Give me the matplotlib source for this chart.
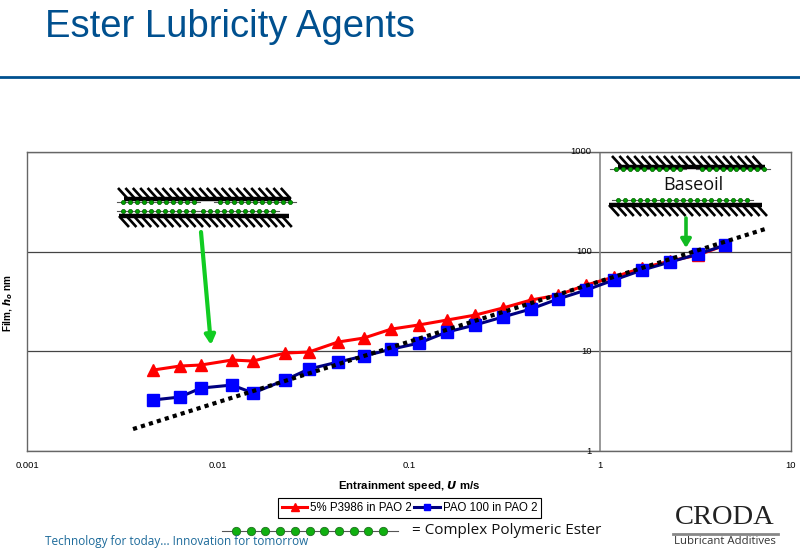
#!/usr/bin/env python3
"""Ester lubricity chart: film thickness vs entrainment speed"""
import matplotlib
matplotlib.use("Agg")
import matplotlib.pyplot as plt

plt.rcParams["font.family"] = ["Liberation Sans", "DejaVu Sans"]

speed = [0.00457, 0.00632, 0.00815, 0.01184, 0.01525, 0.02244, 0.0299, 0.0425,
         0.0581, 0.0806, 0.1128, 0.158, 0.222, 0.310, 0.435, 0.603, 0.845,
         1.18, 1.66, 2.32, 3.26, 4.51]
film_p3986 = [6.49, 7.12, 7.29, 8.18, 7.99, 9.61, 9.84, 12.4, 13.6, 16.7, 18.4,
              20.6, 23.1, 27.2, 32.7, 36.7, 46.2, 55.6, 68.5, 80.5, 92.5, 116]
film_pao100 = [3.25, 3.48, 4.28, 4.59, 3.82, 5.15, 6.64, 7.81, 8.97, 10.5, 12.1,
               15.6, 18.4, 22.1, 26.6, 33.5, 41.2, 51.9, 65.3, 78.6, 94.6, 116]
trend_x = [0.00359, 7.31]
trend_y = [1.66, 168.6]
x_ticks = [0.001, 0.01, 0.1, 1, 10]
x_labels = ["0.001", "0.01", "0.1", "1", "10"]
y_ticks = [1, 10, 100, 1000]
y_labels = ["1", "10", "100", "1000"]

W, H = 800, 556
fig = plt.figure(figsize=(W / 100, H / 100), dpi=100)

# chart area, y axis crosses at x = 1
ax = fig.add_axes([27 / W, 1 - 451 / H, (791 - 27) / W, (451 - 152) / H])
ax.set_xscale("log")
ax.set_yscale("log")
ax.set_xlim(0.001, 10)
ax.set_ylim(1, 1000)
ax.minorticks_off()
for s in ax.spines.values():
    s.set_color("#666666")
    s.set_linewidth(1)
ax.grid(True, axis="y", color="#444444", lw=0.9)
ax.set_axisbelow(True)
ax.axvline(1, color="#888888", lw=1.2)
ax.set_xticks(x_ticks)
ax.set_xticklabels(x_labels, fontsize=6.8)
ax.tick_params(axis="x", length=0, pad=7.5)
ax.set_yticks(y_ticks)
ax.set_yticklabels([])
ax.tick_params(axis="y", length=0)
for v, lab in zip(y_ticks, y_labels):
    ax.annotate(lab, (1, v), xytext=(-6, 0), textcoords="offset points",
                ha="right", va="center", fontsize=6.8)

l1, = ax.plot(speed, film_p3986, color="#ff0000", lw=2.2, marker="^", ms=9,
              label="5% P3986 in PAO 2")
l2, = ax.plot(speed, film_pao100, color="#000080", lw=2.2, marker="s", ms=8,
              mfc="#0000ff", mec="#0000ff", label="PAO 100 in PAO 2")
ax.plot(trend_x, trend_y, color="black", lw=3, ls=(0, (1, 1)))

ax.set_xlabel("Entrainment speed, $\\bfit{U}$ m/s", fontsize=8.2, fontweight="bold", labelpad=6)
fig.text(8 / W, 1 - 303 / H, "Film, $\\bfit{h_o}$ nm", rotation=90, fontsize=7.2,
         fontweight="bold", ha="center", va="center")

leg = fig.legend(handles=[l1, l2], loc="center", bbox_to_anchor=(409.5 / W, 1 - 508 / H),
                 ncol=2, fontsize=8.3, frameon=True, fancybox=False, edgecolor="black",
                 framealpha=1, columnspacing=0.2, handlelength=2.2, handletextpad=0.25,
                 borderpad=0.35, borderaxespad=0, markerscale=0.6)
leg.get_frame().set_linewidth(0.8)

# overlay in pixel coordinates for the slide furniture
ov = fig.add_axes([0, 0, 1, 1], facecolor="none")
ov.set_xlim(0, W)
ov.set_ylim(H, 0)
ov.axis("off")

ov.text(45, 27, "Ester Lubricity Agents", fontsize=27.5, color="#00508f", va="center", ha="left")
ov.plot([0, 800], [77, 77], color="#00508f", lw=2)


def wall(x0, x1, y, up):
    # black bar with diagonal hatch strokes
    ov.plot([x0, x1], [y, y], color="black", lw=3.2, solid_capstyle="butt")
    x = x0
    while x < x1:
        if up:
            ov.plot([x - 6, x + 4], [y - 11, y], color="black", lw=1.9, solid_capstyle="butt")
        else:
            ov.plot([x, x + 10], [y, y + 11], color="black", lw=1.9, solid_capstyle="butt")
        x += 7.4


def chain(x0, x1, y, n):
    ov.plot([x0 - 6, x1 + 6], [y, y], color="#555555", lw=0.8)
    xs = [x0 + i * (x1 - x0) / (n - 1) for i in range(n)]
    ov.plot(xs, [y] * n, ls="none", marker="o", ms=3, mfc="#00a000", mec="#006000", mew=0.5)


# left diagram
wall(124, 291, 199, True)
chain(123, 194, 202, 11)
chain(220, 290, 202, 11)
chain(123, 193, 211, 11)
chain(203, 273, 211, 11)
wall(119, 289, 216, False)

# right diagram
wall(618, 765, 167, True)
chain(616, 680, 169, 10)
chain(702, 764, 169, 10)
chain(618, 676, 200, 9)
chain(683, 747, 200, 10)
wall(609, 762, 205, False)
ov.text(693, 185, "Baseoil", fontsize=13, family="Open Sans", color="#111111", ha="center", va="center")

# green arrows
ov.annotate("", xy=(211, 345), xytext=(201, 232),
            arrowprops=dict(arrowstyle="-|>,head_width=0.3,head_length=0.55", color="#11cc22", lw=3, shrinkA=0, shrinkB=0))
ov.annotate("", xy=(686, 248), xytext=(686, 218),
            arrowprops=dict(arrowstyle="-|>,head_width=0.3,head_length=0.5", color="#11bb22", lw=2.6, shrinkA=0, shrinkB=0))

# key for the ester chain
ov.plot([222, 398], [531, 531], color="#555555", lw=0.8)
ov.plot([236 + i * 14.7 for i in range(11)], [531] * 11, ls="none", marker="o", ms=6,
        mfc="#10b010", mec="#207020", mew=0.6)
ov.text(412, 530, "= Complex Polymeric Ester", fontsize=11, family="Open Sans", color="#111111",
        va="center", ha="left")

ov.text(45, 542, "Technology for today... Innovation for tomorrow", fontsize=8.5, family="Open Sans",
        color="#1c6a9a", va="center", ha="left")

# logo
ov.text(725, 518, "CRODA", fontsize=20.5, family="Liberation Serif", color="#222222", ha="center", va="center")
ov.plot([673, 778], [534, 534], color="#888888", lw=2)
ov.text(725, 542, "Lubricant Additives", fontsize=8.2, family="Open Sans", color="#333333", ha="center", va="center")

fig.savefig("out.png", dpi=100)
